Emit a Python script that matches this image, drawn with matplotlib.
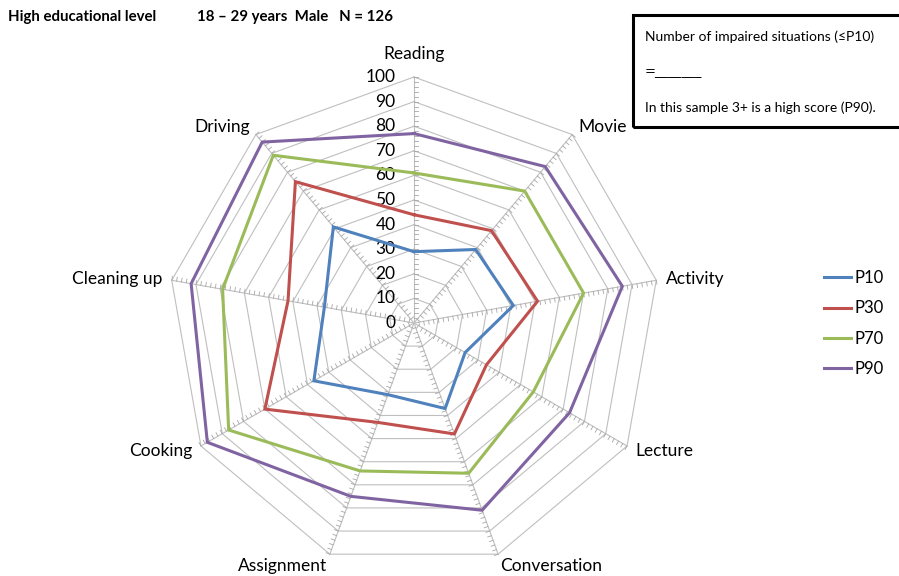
import numpy as np
import matplotlib
matplotlib.use("Agg")
from matplotlib import pyplot as plt
from matplotlib.patches import Rectangle

# data
categories = ["Reading", "Movie", "Activity", "Lecture", "Conversation",
              "Assignment", "Cooking", "Cleaning up", "Driving"]
p10 = [29, 39, 41, 24, 37, 31, 47, 37, 51]
p30 = [44, 49, 51, 34, 48, 43, 70, 52, 75]
p70 = [61, 70, 70, 56, 65, 64, 87, 79, 89]
p90 = [77, 83, 86, 73, 81, 75, 97, 92, 96]
series_names = ["P10", "P30", "P70", "P90"]
series_colors = ["#4F81BD", "#C0504D", "#9BBB59", "#8064A2"]
rticks = list(range(0, 101, 10))

plt.rcParams['font.family'] = ['Lato', 'DejaVu Sans']

n = len(categories)
angles = np.deg2rad(90 - 360.0 / n * np.arange(n))


def to_xy(vals):
    vals = np.asarray(vals, dtype=float)
    return vals * np.cos(angles), vals * np.sin(angles)


fig = plt.figure(figsize=(8.99, 5.76), dpi=100)
ax = fig.add_axes([0, 0, 1, 1])
# centre at pixel (414, 323), 100 units = 246 px
scale = 2.46
ax.set_xlim(-414 / scale, (899 - 414) / scale)
ax.set_ylim(-(576 - 323) / scale, 323 / scale)
ax.set_aspect('equal')
ax.axis('off')

grid_col = "#BFBFBF"
# polygon grid
for r in rticks[1:]:
    gx, gy = to_xy([r] * n)
    ax.plot(np.append(gx, gx[0]), np.append(gy, gy[0]), color=grid_col, lw=0.8, zorder=1)
# spokes + minor tick marks (clockwise side)
for a in angles:
    ax.plot([0, 100 * np.cos(a)], [0, 100 * np.sin(a)], color=grid_col, lw=0.8, zorder=1)
    px, py = np.sin(a), -np.cos(a)
    for t in np.arange(2, 101, 2):
        bx, by = t * np.cos(a), t * np.sin(a)
        ax.plot([bx, bx + 1.6 * px], [by, by + 1.6 * py], color="#A6A6A6", lw=0.6, zorder=1)

# radial tick labels
for r in rticks:
    ax.text(-7.5, r, str(r), ha='right', va='center', fontsize=12.5, color='black')

# category labels
for lab, a in zip(categories, angles):
    c, s = np.cos(a), np.sin(a)
    if abs(c) < 0.05:
        ax.text(0, 106, lab, ha='center', va='bottom', fontsize=12.5)
    elif s < -0.8:
        ha = 'left' if c > 0 else 'right'
        ax.text(100 * c + (1 if c > 0 else -1), 100 * s - 1.5, lab, ha=ha, va='top', fontsize=12.5)
    else:
        ha = 'left' if c > 0 else 'right'
        ax.text(104 * c, 104 * s, lab, ha=ha, va='center', fontsize=12.5)

# series
for name, vals, col in zip(series_names, [p10, p30, p70, p90], series_colors):
    sx, sy = to_xy(vals)
    ax.plot(np.append(sx, sx[0]), np.append(sy, sy[0]), color=col, lw=2.2,
            label=name, zorder=3, solid_joinstyle='miter')

leg = fig.legend(loc='upper left', bbox_to_anchor=(0.9, 0.557), frameon=False,
                 fontsize=12, handlelength=1.6, handletextpad=0.2, labelspacing=0.85)

# header
fig.text(8 / 899, 1 - 17 / 576, "High educational level", fontsize=10.8, fontweight='bold',
         va='center', ha='left')
fig.text(197 / 899, 1 - 17 / 576, "18 \u2013 29 years  Male   N = 126", fontsize=10.8,
         fontweight='bold', va='center', ha='left')

# note box
box = Rectangle((633 / 899, 1 - 127 / 576), 0.3, 112 / 576, transform=fig.transFigure,
                fill=False, edgecolor='black', lw=2.2, clip_on=False)
fig.patches.append(box)
fig.text(645 / 899, 1 - 37 / 576, "Number of impaired situations (\u2264P10)", fontsize=10,
         va='center', ha='left')
fig.text(645 / 899, 1 - 72 / 576, "=_______", fontsize=9.5, va='center', ha='left',
         family=['DejaVu Sans'])
fig.text(645 / 899, 1 - 108 / 576, "In this sample 3+ is a high score (P90).", fontsize=10,
         va='center', ha='left')

fig.savefig("out.png", dpi=100, facecolor='white')
